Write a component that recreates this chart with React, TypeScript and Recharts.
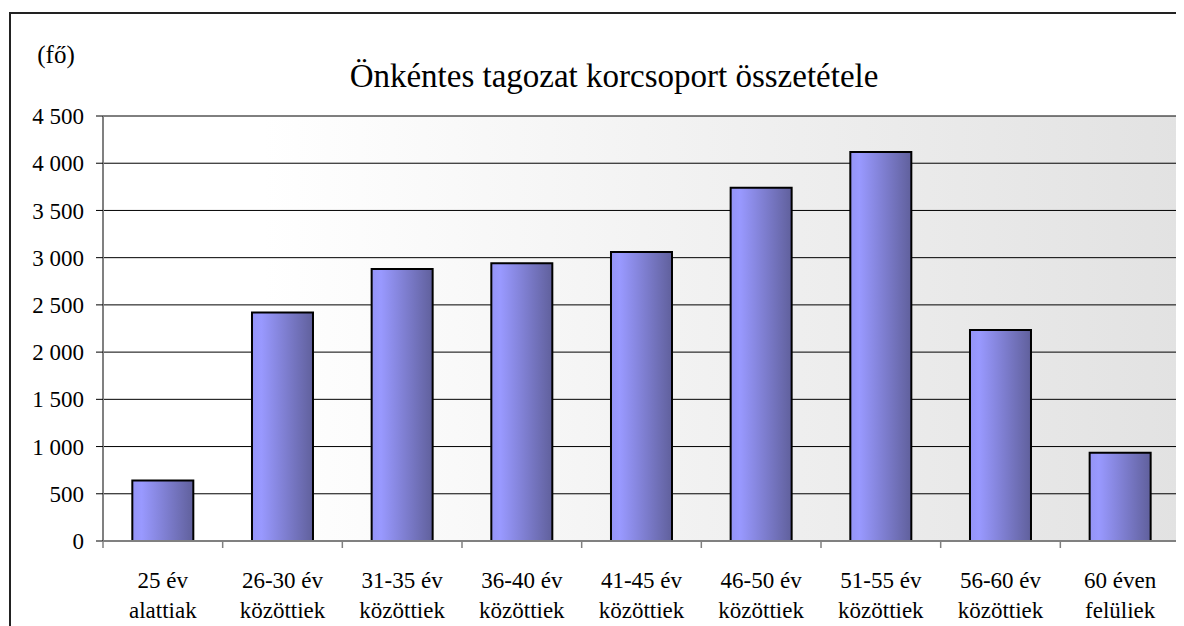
import React from "react";
import { BarChart, Bar, XAxis, YAxis, CartesianGrid } from "recharts";

const categories = [
  "25 év\nalattiak",
  "26-30 év\nközöttiek",
  "31-35 év\nközöttiek",
  "36-40 év\nközöttiek",
  "41-45 év\nközöttiek",
  "46-50 év\nközöttiek",
  "51-55 év\nközöttiek",
  "56-60 év\nközöttiek",
  "60 éven\nfelüliek",
];
const values = [640, 2420, 2880, 2940, 3060, 3740, 4120, 2235, 935];
const yTicks = [0, 500, 1000, 1500, 2000, 2500, 3000, 3500, 4000, 4500];

const TITLE = "Önkéntes tagozat korcsoport összetétele";
const UNIT = "(fő)";

const FONT = "Liberation Serif, Tinos, DejaVu Serif, Times New Roman, serif";

const data = categories.map((name, i) => ({ name, value: values[i] }));

const fmt = (v: number) => (v >= 1000 ? `${Math.floor(v / 1000)} ${String(v % 1000).padStart(3, "0")}` : String(v));

function XTick(props: any) {
  const { x, y, payload, index, visibleTicksCount } = props;
  const half = payload.offset ?? 59.8;
  const lines = String(payload.value).split("\n");
  return (
    <g>
      <line x1={x - half} x2={x - half} y1={y} y2={y + 7} stroke="#808080" strokeWidth={1.5} />
      {index === visibleTicksCount - 1 && (
        <line x1={x + half} x2={x + half} y1={y} y2={y + 7} stroke="#808080" strokeWidth={1.5} />
      )}
      <text x={x} y={y} textAnchor="middle" style={{ fontFamily: FONT }} fontSize={23} fill="#000">
        {lines.map((l, i) => (
          <tspan key={i} x={x} dy={i === 0 ? 47 : 30}>
            {l}
          </tspan>
        ))}
      </text>
    </g>
  );
}

export default function App() {
  return (
    <div style={{ position: "relative", width: 1176, height: 618, overflow: "hidden", background: "#fff" }}>
      <style>{"html,body{overflow:hidden}"}</style>
      <div
        style={{
          position: "absolute",
          left: 1,
          top: 4,
          right: -10,
          bottom: -10,
          borderTop: "2px solid #222",
          borderLeft: "2px solid #222",
        }}
      />
      <div style={{ position: "absolute", left: 0, top: 0 }}>
        <BarChart
          width={1176}
          height={618}
          data={data}
          margin={{ top: 108, right: 4, left: 0, bottom: 15 }}
          barCategoryGap="24.5%"
        >
          <defs>
            <linearGradient id="plotBg" x1="0" y1="0" x2="1" y2="0">
              <stop offset="0" stopColor="#ffffff" />
              <stop offset="0.15" stopColor="#ffffff" />
              <stop offset="1" stopColor="#e2e2e2" />
            </linearGradient>
            <linearGradient id="barFill" x1="0" y1="0" x2="1" y2="0">
              <stop offset="0" stopColor="#9494f6" />
              <stop offset="0.15" stopColor="#9999ff" />
              <stop offset="1" stopColor="#60609c" />
            </linearGradient>
          </defs>
          <CartesianGrid vertical={false} stroke="#000" strokeWidth={1} fill="url(#plotBg)" fillOpacity={1} />
          <XAxis
            dataKey="name"
            interval={0}
            height={70}
            tickSize={0}
            tickMargin={0}
            tickLine={false}
            axisLine={{ stroke: "#808080", strokeWidth: 2 }}
            tick={<XTick />}
          />
          <YAxis
            width={95}
            domain={[0, 4500]}
            ticks={yTicks}
            interval={0}
            tickSize={7}
            tickMargin={12}
            tickFormatter={fmt}
            tickLine={{ stroke: "#000" }}
            axisLine={{ stroke: "#808080", strokeWidth: 2 }}
            tick={{ style: { fontFamily: FONT }, fontSize: 23, fill: "#000" }}
          />
          <Bar dataKey="value" fill="url(#barFill)" stroke="#000" strokeWidth={2} isAnimationActive={false} />
        </BarChart>
      </div>
      <svg
        width={1176}
        height={120}
        style={{ position: "absolute", left: 0, top: 0, pointerEvents: "none" }}
      >
        <text x={29.3} y={55.3} style={{ fontFamily: FONT }} fontSize={25} fill="#000">
          {UNIT}
        </text>
        <text x={606} y={78.5} textAnchor="middle" style={{ fontFamily: FONT }} fontSize={33} fill="#000">
          {TITLE}
        </text>
      </svg>
    </div>
  );
}
